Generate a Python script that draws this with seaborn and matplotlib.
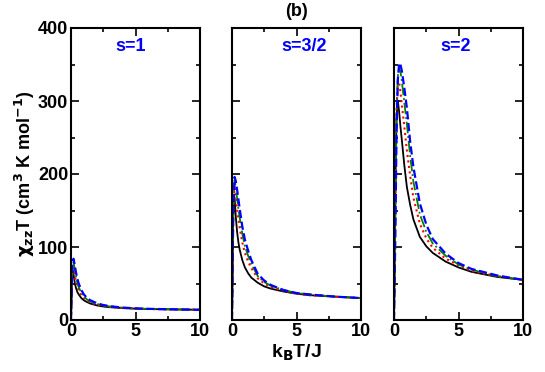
import numpy as np
import pandas as pd
import matplotlib
matplotlib.use("Agg")
import matplotlib.pyplot as plt
import seaborn as sns
from matplotlib.ticker import MultipleLocator

# temperature grid (kB T / J)
T = [0.0, 0.1, 0.2, 0.3, 0.4, 0.5, 0.6, 0.8, 1.0, 1.25, 1.5, 2.0, 2.5, 3.0, 4.0, 5.0, 6.0, 8.0, 10.0]

# s = 1
s1_black = [0, 70, 62, 50, 43, 38, 35, 30, 27, 24.5, 22.5, 20, 18.5, 17.5, 16.3, 15.5, 15, 14.5, 14]
s1_red = [0, 74, 72, 60, 51, 45, 40, 34, 30, 26.5, 24, 21, 19.3, 18, 16.6, 15.7, 15.1, 14.5, 14]
s1_green = [0, 78, 79, 68, 58, 50, 45, 37, 32, 28, 25.5, 22, 20, 18.5, 16.8, 15.8, 15.2, 14.5, 14]
s1_blue = [0, 80, 84, 74, 64, 56, 50, 41, 35, 30, 27, 23, 20.5, 19, 17, 16, 15.3, 14.6, 14]

# s = 3/2
s32_black = [0, 150, 168, 140, 120, 106, 96, 82, 72, 64, 58, 51, 46, 43, 39, 36, 34, 32, 30]
s32_red = [0, 155, 185, 168, 152, 138, 126, 106, 92, 80, 71, 57, 50, 45, 40, 36, 34, 32, 30]
s32_green = [0, 150, 192, 180, 166, 152, 140, 118, 101, 88, 77, 60, 52, 47, 41, 37, 35, 32, 30]
s32_blue = [0, 150, 196, 190, 178, 165, 152, 128, 110, 95, 82, 63, 54, 48, 41, 37, 35, 32, 30]

# s = 2
s2_black = [0, 180, 280, 300, 285, 265, 248, 212, 182, 158, 138, 114, 101, 92, 80, 72, 66, 59, 55]
s2_red = [0, 150, 290, 328, 325, 312, 296, 265, 232, 198, 168, 132, 112, 99, 84, 75, 67, 60, 55]
s2_green = [0, 130, 280, 335, 345, 340, 328, 298, 268, 225, 190, 145, 121, 105, 88, 76, 69, 60, 55]
s2_blue = [0, 110, 260, 330, 352, 350, 342, 318, 290, 245, 210, 160, 131, 111, 91, 78, 70, 61, 55]

spin_labels = ["s=1", "s=3/2", "s=2"]
label_x = [0.46, 0.56, 0.48]
panels = [
    [s1_black, s1_red, s1_green, s1_blue],
    [s32_black, s32_red, s32_green, s32_blue],
    [s2_black, s2_red, s2_green, s2_blue],
]

styles = [("black", "-", 1.3), ("red", ":", 1.5), ("green", "-.", 1.3), ("blue", "--", 1.6)]

sns.set_style("ticks")
plt.rcParams["font.family"] = ["Liberation Sans", "DejaVu Sans"]
plt.rcParams["font.weight"] = "bold"
plt.rcParams["mathtext.default"] = "bf"
for key in ["text.color", "axes.labelcolor", "xtick.color", "ytick.color", "axes.edgecolor"]:
    plt.rcParams[key] = "black"

fig = plt.figure(figsize=(5.45, 3.72), dpi=100)
lefts = [71, 232, 394]
width = 129
axes = []
for i in range(3):
    ax = fig.add_axes([lefts[i] / 545, 52 / 372, width / 545, 292 / 372])
    axes.append(ax)

for i, ax in enumerate(axes):
    for vals, (c, ls, lw) in zip(panels[i], styles):
        sns.lineplot(x=T, y=vals, ax=ax, color=c, linestyle=ls, linewidth=lw,
                     estimator=None, sort=False)
    ax.set_xlim(0, 10)
    ax.set_ylim(0, 400)
    ax.xaxis.set_major_locator(MultipleLocator(5))
    ax.xaxis.set_minor_locator(MultipleLocator(2.5))
    ax.yaxis.set_major_locator(MultipleLocator(100))
    ax.yaxis.set_minor_locator(MultipleLocator(50))
    ax.tick_params(which="both", direction="in", top=True, right=True, width=1.2)
    ax.tick_params(which="major", length=6, labelsize=13, pad=2)
    ax.tick_params(which="minor", length=3)
    for sp in ax.spines.values():
        sp.set_linewidth(1.5)
    for lab in ax.get_xticklabels() + ax.get_yticklabels():
        lab.set_fontweight("bold")
    if i > 0:
        ax.set_yticklabels([])
    ax.set_xlabel("")
    ax.set_ylabel("")
    ax.text(label_x[i], 0.935, spin_labels[i], transform=ax.transAxes, color="blue",
            fontsize=13, fontweight="bold", ha="center", va="center")

axes[0].set_ylabel(r"$\chi_{zz}$T (cm$^3$ K mol$^{-1}$)", fontsize=13, fontweight="bold", labelpad=1)
axes[1].set_xlabel(r"k$_B$T/J", fontsize=14, fontweight="bold", labelpad=2)
fig.text(297 / 545, 1 - 12 / 372, "(b)", ha="center", va="center", fontsize=13, fontweight="bold")

fig.savefig("out.png", dpi=100)
